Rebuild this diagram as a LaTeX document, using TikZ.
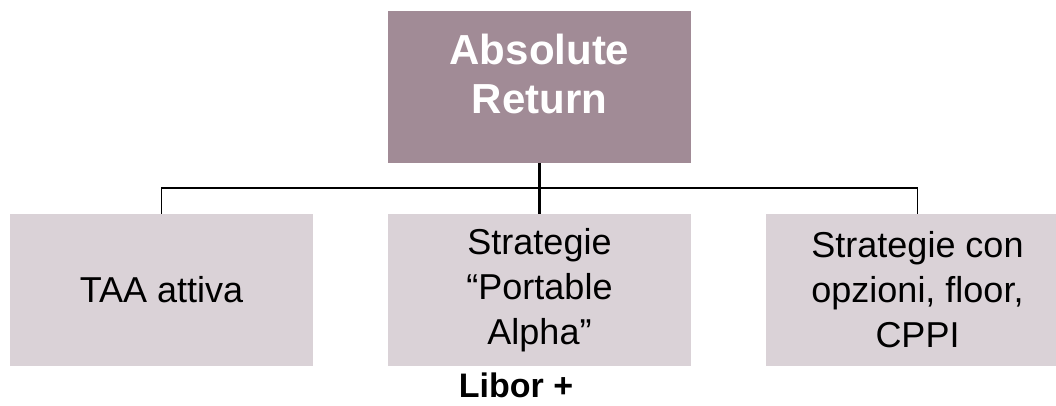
\documentclass[tikz,border=0pt]{standalone}
\usepackage{fontspec}
\setmainfont{Liberation Sans}
\definecolor{topmauve}{RGB}{161,139,150}
\definecolor{sublilac}{RGB}{218,210,215}

\begin{document}
\begin{tikzpicture}[x=1pt, y=-1pt,
	topbox/.style={rectangle, fill=topmauve, minimum width=\boxw, minimum height=\boxh, inner sep=0pt},
	subbox/.style={rectangle, fill=sublilac, minimum width=\boxw, minimum height=\boxh, inner sep=0pt,
		align=center, font=\fontsize{36}{45}\selectfont},
	link/.style={line width=1.6pt}]
	\def \boxw {303pt}
	\def \boxh {152pt}

	\useasboundingbox (0,0) rectangle (1056,406);

	\node[topbox] (absret) at (539.5,87) {};
	\node[text=white, align=center, font=\bfseries\fontsize{42}{49}\selectfont] (absrettext) at (539.5,74)
		{Absolute\\Return};

	\node[subbox] (taa)      at (161.5,290) {TAA attiva};
	\node[subbox] (portable) at (539.5,290) {Strategie\\“Portable\\Alpha”};
	\node[subbox] (opzioni)  at (917.5,290) {Strategie con\\opzioni, floor,\\CPPI};

	\coordinate (bus) at (539.5,188);
	\draw[link] (taa.north) -- (taa.north |- bus) -- (opzioni.north |- bus) -- (opzioni.north);
	\draw[line width=2.4pt] (absret.south) -- (portable.north);

	\node[anchor=base, inner sep=0pt, text depth=0pt, font=\bfseries\fontsize{34}{44}\selectfont] (libor) at (516,397) {Libor +};
\end{tikzpicture}
\end{document}
